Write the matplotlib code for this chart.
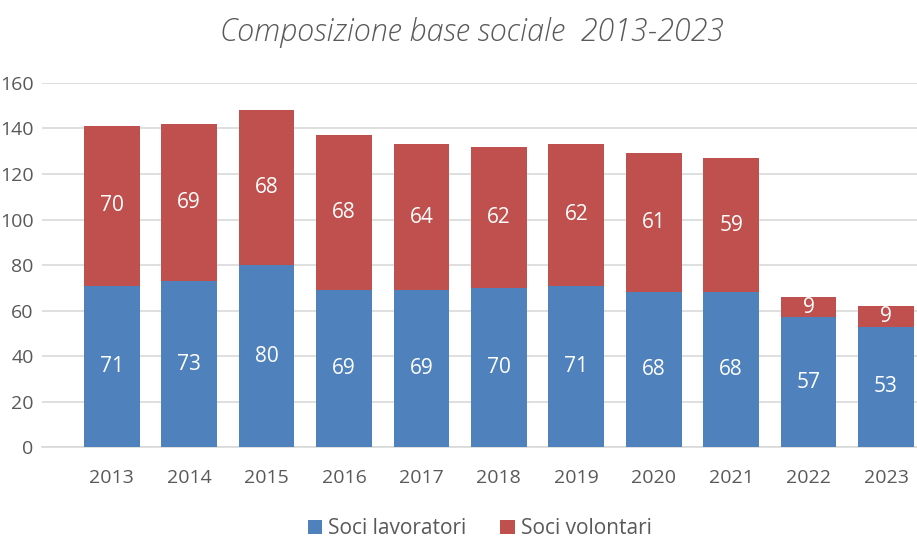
import matplotlib.pyplot as plt
import numpy as np

# data
anni = ["2013", "2014", "2015", "2016", "2017", "2018", "2019", "2020", "2021", "2022", "2023"]
soci_lavoratori = [71, 73, 80, 69, 69, 70, 71, 68, 68, 57, 53]
soci_volontari = [70, 69, 68, 68, 64, 62, 62, 61, 59, 9, 9]

blu = "#4F81BD"
rosso = "#C0504D"

plt.rcParams['font.family'] = ['Open Sans', 'DejaVu Sans']

fig = plt.figure(figsize=(9.17, 5.42), dpi=100)
ax = fig.add_axes([0.0458, 0.175, 0.9542, 0.672])

x = np.arange(len(anni))
b1 = ax.bar(x, soci_lavoratori, width=0.72, color=blu, label="Soci lavoratori", zorder=3)
b2 = ax.bar(x, soci_volontari, width=0.72, bottom=soci_lavoratori, color=rosso,
            label="Soci volontari", zorder=3)

ax.bar_label(b1, labels=[str(v) for v in soci_lavoratori], label_type='center',
             color='white', fontsize=15)
ax.bar_label(b2, labels=[str(v) for v in soci_volontari], label_type='center',
             color='white', fontsize=15)

ax.set_ylim(0, 160)
ax.set_yticks(range(0, 161, 20))
ax.set_xlim(-0.9, 10.4)
ax.set_xticks(x)
ax.set_xticklabels(anni)
ax.yaxis.grid(True, color='#D9D9D9', linewidth=1.2, zorder=0)
for s in ['top', 'right', 'left']:
    ax.spines[s].set_visible(False)
ax.spines['bottom'].set_color('#D9D9D9')
ax.spines['bottom'].set_linewidth(1.2)
ax.tick_params(axis='both', length=0, labelsize=14, colors='#595959')
ax.tick_params(axis='x', pad=16)
ax.tick_params(axis='y', pad=6)

fig.text(0.515, 0.94, "Composizione base sociale  2013-2023", ha='center', va='center',
         fontsize=22, style='italic', fontweight='light', color='#595959')

fig.legend(handles=[b1, b2], loc='center', bbox_to_anchor=(0.523, 0.024), ncol=2,
           frameon=False, fontsize=15, labelcolor='#595959', handlelength=0.7,
           handleheight=0.7, columnspacing=1.6, handletextpad=0.3)

fig.savefig("out.png", dpi=100)
